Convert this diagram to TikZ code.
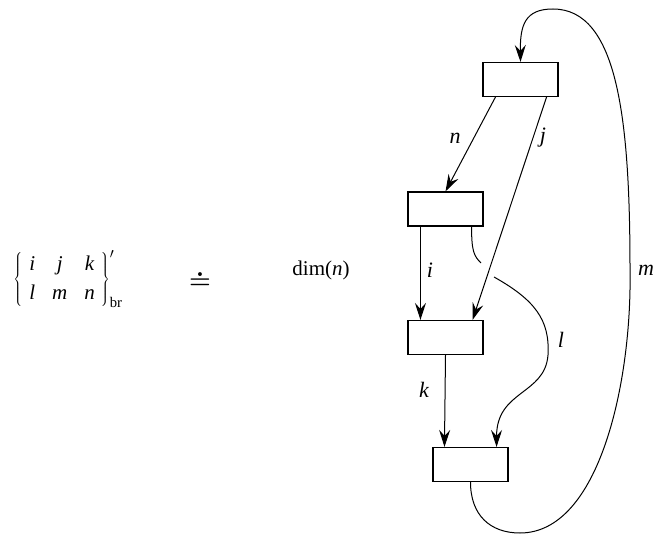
\documentclass[tikz,border=0pt]{standalone}
\usepackage{fontspec}
\setmainfont{Liberation Serif}
\usetikzlibrary{arrows.meta}
\begin{document}
\begin{tikzpicture}[x=1pt,y=-1pt,
  box/.style={draw,line width=1.1pt,minimum width=75pt,minimum height=34pt,inner sep=0pt},
  conn/.style={line width=1pt},
  arr/.style={conn,-{Stealth[length=17pt,width=11pt,inset=6pt]}},
  big/.style={inner sep=0pt,font=\fontsize{21}{25}\selectfont},
  lab/.style={font=\fontsize{22}{26}\selectfont\itshape,inner sep=0pt}]
\useasboundingbox (0,0) rectangle (669,534);
% boxes
\node[box] (A) at (520.5,79.5) {};
\node[box] (B) at (445.5,209) {};
\node[box] (C) at (445.5,337.5) {};
\node[box] (D) at (470.5,464.5) {};
% left-hand side
\node[big] (lhs) at (68,279)
  {$\left\{\begin{array}{@{\hspace{7pt}}c@{\hspace{17pt}}c@{\hspace{17pt}}c@{\hspace{6pt}}}\textit{i}&\textit{j}&\textit{k}\\[4pt]\textit{l}&\textit{m}&\textit{n}\end{array}\right\}^{\prime}_{\mathrm{br}}$};
\node[inner sep=0pt,font=\fontsize{30}{36}\selectfont\boldmath] (eq) at (200,280) {$\doteq$};
\node[big] (dim) at (321,270) {dim(\textit{n})};
% connectors
\draw[arr] ([xshift=13pt]A.south west) -- (B.north);
\draw[arr] ([xshift=-12pt]A.south east) -- ([xshift=-11pt]C.north east);
\draw[arr] ([xshift=13pt]B.south west) -- ([xshift=13pt]C.north west);
\draw[arr] (C.south) -- ([xshift=12pt]D.north west);
\coordinate (lg1) at (481,263);
\coordinate (lg2) at (494,277);
\draw[conn] ([xshift=-12pt]B.south east) .. controls +(0,25) and (474,256) .. (lg1);
\draw[arr] (lg2) .. controls (535,300) and (550,320) .. (548,355)
  .. controls (545,395) and ([xshift=-12pt,yshift=57pt]D.north east) .. ([xshift=-12pt]D.north east);
\draw[arr] (D.south) .. controls +(0,33) and (490,533) .. (520,533)
  .. controls (600,533) and (632,380) .. (630,270)
  .. controls (630,120) and (618,9) .. (553,9)
  .. controls (525,9) and (520,25) .. (A.north);
% labels
\node[lab] (ln) at (455,138) {n};
\node[lab] (lj) at (543,138) {j};
\node[lab] (li) at (430,270) {i};
\node[lab] (ll) at (561,340) {l};
\node[lab] (lk) at (424,390) {k};
\node[lab] (lm) at (646,270) {m};
\end{tikzpicture}
\end{document}
